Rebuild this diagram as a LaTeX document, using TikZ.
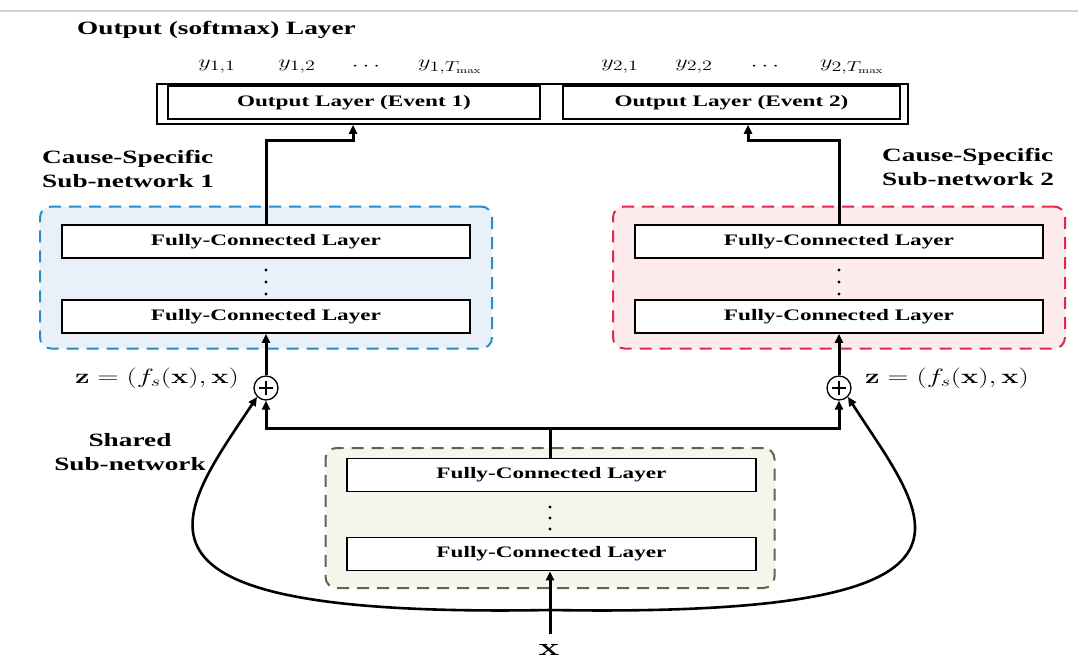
\documentclass[tikz,border=0pt]{standalone}
\usepackage[no-math]{fontspec}
\usepackage{graphicx}
\setmainfont{Liberation Serif}[FakeStretch=1.45]
\usetikzlibrary{arrows.meta}
\definecolor{bluec}{RGB}{40,140,200}
\definecolor{bluef}{RGB}{232,241,250}
\definecolor{redc}{RGB}{225,40,75}
\definecolor{redf}{RGB}{252,234,237}
\definecolor{olivec}{RGB}{95,100,80}
\definecolor{olivef}{RGB}{244,246,236}
\newcommand{\sx}[1]{\scalebox{1.4}[1]{#1}}
\tikzset{
  fcbox/.style={draw, line width=1.8pt, fill=white, minimum width=408pt, minimum height=33pt, inner sep=0pt,
     font=\fontsize{16}{19}\selectfont\bfseries},
  outbox/.style={draw, line width=1.8pt, fill=white, minimum height=33pt, inner sep=0pt,
     font=\fontsize{16}{19}\selectfont\bfseries},
  group/.style={dashed, dash pattern=on 12pt off 8pt, line width=2pt, rounded corners=11pt, inner sep=0pt},
  title/.style={font=\fontsize{18.8}{24}\selectfont\bfseries, inner sep=0pt},
  mlab/.style={inner sep=0pt, font=\fontsize{19}{22}\selectfont},
  conn/.style={line width=3pt, -{Triangle[length=9pt,width=8pt]}},
  curve/.style={line width=2.6pt, -{Triangle[length=9pt,width=8pt]}},
  plus/.style={draw, circle, line width=1.3pt, minimum size=24pt, inner sep=0pt, fill=white},
}
\begin{document}
\begin{tikzpicture}[x=1pt, y=-1pt]
\useasboundingbox (0,0) rectangle (1078,664);
\draw[gray!35, line width=1.5pt] (0,11) -- (1078,11);

% group backgrounds
\node[group, draw=bluec, fill=bluef, minimum width=452pt, minimum height=142pt] (gL) at (266,277.5) {};
\node[group, draw=redc, fill=redf, minimum width=452pt, minimum height=142pt] (gR) at (839,277.5) {};
\node[group, draw=olivec, fill=olivef, minimum width=449pt, minimum height=140pt] (gS) at (550,518) {};

% titles
\node[title, anchor=west] (tout) at (77,30) {Output (softmax) Layer};
\node[title, anchor=north west, align=left] (tcs1) at (42,150) {Cause-Specific\\Sub-network 1};
\node[title, anchor=north west, align=left] (tcs2) at (882,148) {Cause-Specific\\Sub-network 2};
\node[title, align=center] (tsh) at (130,452) {Shared\\Sub-network};

% output layer
\node[draw, line width=1.5pt, minimum width=751pt, minimum height=40pt, inner sep=0pt] (outer) at (532.5,104) {};
\node[outbox, minimum width=372pt] (E1) at (354,102.5) {Output Layer (Event 1)};
\node[outbox, minimum width=337pt] (E2) at (731.5,102.5) {Output Layer (Event 2)};

% y labels
\node[mlab] (y11) at (217,67) {\sx{$y_{1,1}$}};
\node[mlab] (y12) at (297,67) {\sx{$y_{1,2}$}};
\node[mlab] (yd1) at (366,67) {\sx{$\cdots$}};
\node[mlab] (y1T) at (450,67) {\sx{$y_{1,T_{\max}}$}};
\node[mlab] (y21) at (620,67) {\sx{$y_{2,1}$}};
\node[mlab] (y22) at (694,67) {\sx{$y_{2,2}$}};
\node[mlab] (yd2) at (765,67) {\sx{$\cdots$}};
\node[mlab] (y2T) at (852,67) {\sx{$y_{2,T_{\max}}$}};

% FC layers
\node[fcbox] (L1) at (266,241.5) {Fully-Connected Layer};
\node[fcbox] (L2) at (266,316.5) {Fully-Connected Layer};
\node[fcbox] (R1) at (839,241.5) {Fully-Connected Layer};
\node[fcbox] (R2) at (839,316.5) {Fully-Connected Layer};
\node[fcbox, minimum width=409pt] (S1) at (551.5,475) {Fully-Connected Layer};
\node[fcbox, minimum width=409pt] (S2) at (551.5,554) {Fully-Connected Layer};

% vertical dots
\foreach \y in {270,282,294} {\fill (266,\y) circle (1.6pt); \fill (839,\y) circle (1.6pt);}
\foreach \y in {507,518,529} {\fill (550,\y) circle (1.6pt);}

% plus nodes
\node[plus] (pL) at (266,388) {};
\node[plus] (pR) at (839,388) {};
\draw[line width=1.2pt] (pL.center) ++(-7,0) -- ++(14,0) (pL.center) ++(0,-7) -- ++(0,14);
\draw[line width=1.2pt] (pR.center) ++(-7,0) -- ++(14,0) (pR.center) ++(0,-7) -- ++(0,14);

% z labels
\node[mlab, font=\fontsize{20}{22}\selectfont] (zL) at (157,378) {\sx{$\mathbf{z} = (f_s(\mathbf{x}),\mathbf{x})$}};
\node[mlab, font=\fontsize{20}{22}\selectfont] (zR) at (947,378) {\sx{$\mathbf{z} = (f_s(\mathbf{x}),\mathbf{x})$}};

% input
\node[inner sep=0pt, font=\fontsize{26}{28}\selectfont] (x) at (549,650) {\sx{$\mathbf{x}$}};
\coordinate (c0) at (550,610);
\coordinate (j) at (550,428);

% connectors
\draw[conn] (L1.north) |- (353,140) -- (353,0 |- outer.south);
\draw[conn] (R1.north) |- (748,140) -- (748,0 |- outer.south);
\draw[conn] (pL.north) -- (L2.south);
\draw[conn] (pR.north) -- (R2.south);
\draw[line width=3pt] (S1.north -| j) -- (j);
\draw[conn] (j) -| (pL.south);
\draw[conn] (j) -| (pR.south);
\draw[conn] (c0 |- x.north) ++(0,-10) -- (S2.south -| c0);
\draw[curve] (c0) .. controls (95,618) and (175,520) .. (pL.south west);
\draw[curve] (c0) .. controls (1025,618) and (927,520) .. (pR.south east);
\end{tikzpicture}
\end{document}
